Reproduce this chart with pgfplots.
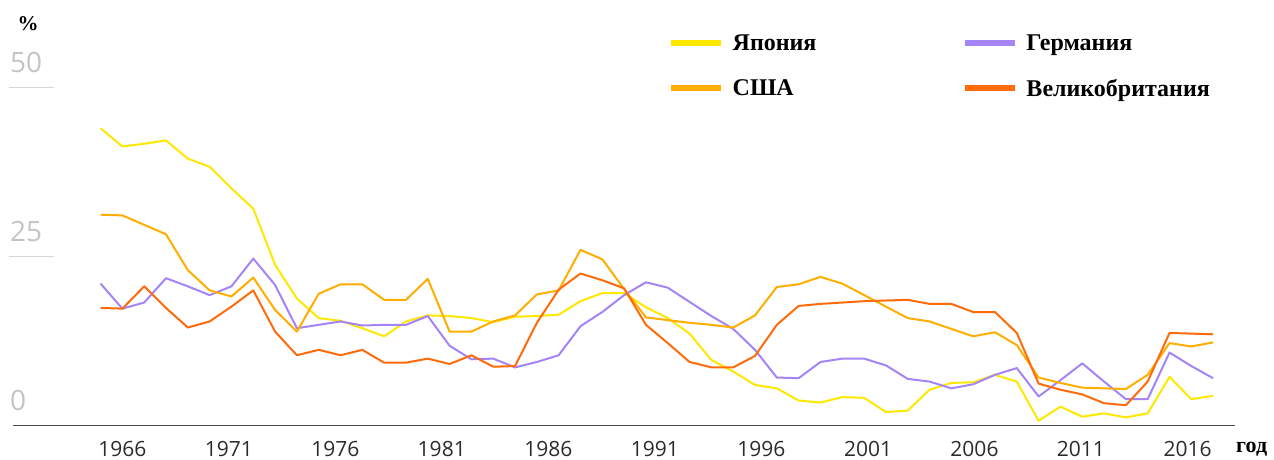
\documentclass[border=0pt]{standalone}
\usepackage{fontspec}
\setmainfont{Liberation Serif}
\newfontfamily\numfont{Open Sans}
\usepackage{pgfplots}
\pgfplotsset{compat=1.18}
\usepackage{pgfplotstable}
\definecolor{cjapan}{HTML}{FFE800}
\definecolor{cusa}{HTML}{FFAE00}
\definecolor{cger}{HTML}{A484F7}
\definecolor{cuk}{HTML}{FF6B0A}
\definecolor{axisgray}{HTML}{4A4A4A}
\definecolor{ylab}{HTML}{C4C4C4}
\definecolor{grid}{HTML}{D6D6D6}
\definecolor{xlab}{HTML}{2B2B2B}

\pgfplotstableread{
year japan usa germany uk
1965 44.0 31.2 21.0 17.4
1966 41.3 31.1 17.3 17.3
1967 41.7 29.7 18.2 20.6
1968 42.2 28.3 21.8 17.4
1969 39.5 23.0 20.6 14.5
1970 38.3 20.0 19.3 15.4
1971 35.1 19.1 20.6 17.6
1972 32.1 21.9 24.7 20.0
1973 23.8 17.1 20.8 13.9
1974 18.8 13.9 14.4 10.4
1975 15.9 19.5 14.9 11.2
1976 15.5 20.9 15.4 10.4
1977 14.4 20.9 14.8 11.2
1978 13.2 18.6 14.9 9.3
1979 15.4 18.6 14.9 9.3
1980 16.3 21.7 16.2 9.9
1981 16.2 13.9 11.8 9.1
1982 15.9 13.9 9.8 10.4
1983 15.3 15.4 9.9 8.7
1984 16.1 16.3 8.6 8.8
1985 16.2 19.4 9.4 15.2
1986 16.4 20.0 10.4 20.1
1987 18.4 26.0 14.7 22.5
1988 19.6 24.6 16.8 21.5
1989 19.6 20.2 19.3 20.3
1990 17.5 16.0 21.2 14.9
1991 15.9 15.6 20.4 12.2
1992 13.6 15.2 18.3 9.4
1993 9.7 14.9 16.2 8.6
1994 8.0 14.5 14.3 8.6
1995 6.0 16.3 11.2 10.3
1996 5.5 20.5 7.1 14.9
1997 3.7 20.9 7.0 17.7
1998 3.4 22.0 9.4 18.0
1999 4.2 21.0 9.9 18.2
2000 4.1 19.3 9.9 18.4
2001 2.0 17.6 8.9 18.5
2002 2.2 15.9 6.9 18.6
2003 5.3 15.4 6.5 18.0
2004 6.3 14.3 5.5 18.0
2005 6.4 13.2 6.1 16.8
2006 7.5 13.8 7.5 16.8
2007 6.5 11.9 8.5 13.7
2008 0.7 7.1 4.3 6.2
2009 2.8 6.3 6.7 5.3
2010 1.3 5.6 9.2 4.6
2011 1.8 5.5 6.5 3.3
2012 1.2 5.4 3.9 3.0
2013 1.8 7.5 3.9 6.5
2014 7.2 12.2 10.8 13.7
2015 3.9 11.7 8.8 13.6
2016 4.4 12.3 7.0 13.5
}\datatable

\begin{document}
\begin{tikzpicture}[x=1pt,y=1pt]
\useasboundingbox (0,0) rectangle (1274,459);
\begin{axis}[
  at={(13.3pt,33.5pt)}, anchor=south west,
  scale only axis, width=1221.7pt, height=337.8pt,
  xmin=1961, xmax=2017, ymin=0, ymax=50,
  clip=false,
  axis line style={draw=none},
  major tick length=0pt,
  xtick={1966,1970.88,1975.76,1980.64,1985.53,1990.41,1995.29,2000.18,2005.06,2009.94,2014.83},
  xticklabels={1966,1971,1976,1981,1986,1991,1996,2001,2006,2011,2016},
  ytick={0,25,50}, yticklabels={0,25,50},
  xticklabel style={font=\numfont\fontsize{21}{21}\selectfont, text=xlab, anchor=base, inner sep=0pt, yshift=-30.5pt},
  yticklabel style={font=\numfont\fontsize{28}{28}\selectfont, text=ylab, anchor=base west, inner sep=0pt, xshift=-3.3pt, yshift=14.8pt},
  legend columns=2,
  legend cell align=left,
  legend image code/.code={\draw[line width=6pt] (0pt,0pt) -- (50pt,0pt);},
  legend style={draw=none, fill=none, at={(0.5359,1.163)}, anchor=north west, inner sep=0pt,
    font=\bfseries\fontsize{24}{24}\selectfont,
    nodes={inner xsep=8.5pt},
    /tikz/every even column/.append style={column sep=137pt},
    row sep=23pt},
  every axis plot/.append style={line width=2.0pt, line join=round},
]
\addplot[cjapan, no markers] table[x=year, y=japan] {\datatable};
\addlegendentry{Япония}
\addplot[cger, no markers] table[x=year, y=germany] {\datatable};
\addlegendentry{Германия}
\addplot[cusa, no markers] table[x=year, y=usa] {\datatable};
\addlegendentry{США}
\addplot[cuk, no markers] table[x=year, y=uk] {\datatable};
\addlegendentry{Великобритания}
\draw[axisgray, line width=1.6pt] (axis cs:1961,0) -- (axis cs:2017,0);
\draw[grid, line width=1.3pt] (axis cs:1960.79,50) -- (axis cs:1962.88,50);
\draw[grid, line width=1.3pt] (axis cs:1960.79,25) -- (axis cs:1962.88,25);
\end{axis}
\node[font=\bfseries\fontsize{21}{21}\selectfont, inner sep=0pt] at (28,435.3) {\%};
\node[font=\bfseries\fontsize{22}{22}\selectfont, inner sep=0pt, anchor=base west] at (1236,7) {год};
\end{tikzpicture}
\end{document}
